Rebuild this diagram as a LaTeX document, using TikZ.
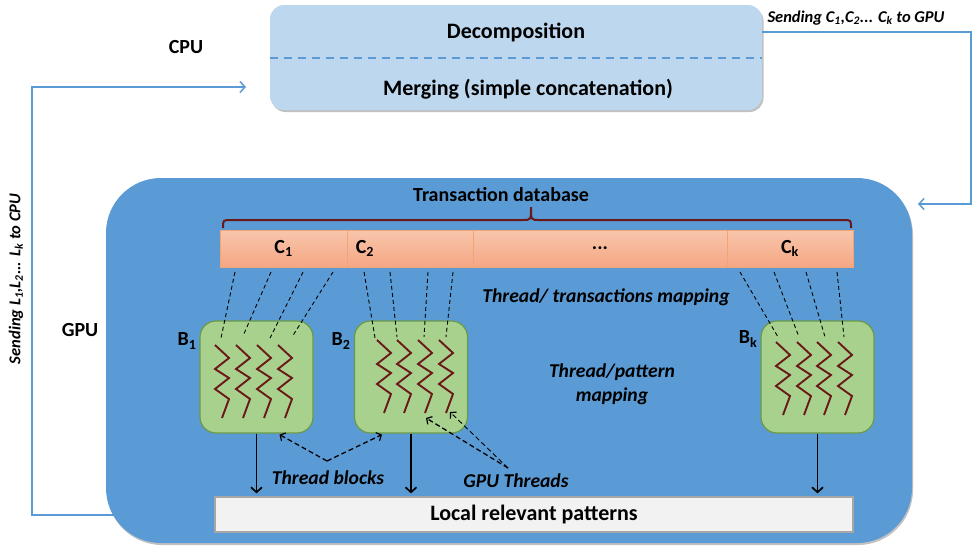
\documentclass[tikz,border=0pt]{standalone}
\usepackage{fontspec}
\setmainfont{Carlito}
\usetikzlibrary{arrows.meta,shadows,calc}
\definecolor{cpufill}{HTML}{BDD7EE}
\definecolor{gpublue}{HTML}{5B9BD5}
\definecolor{blkfill}{HTML}{A9D18E}
\definecolor{blkdraw}{HTML}{6A9A48}
\definecolor{zigcol}{HTML}{6B1818}
\definecolor{salmtop}{HTML}{F8C6AB}
\definecolor{salmbot}{HTML}{F5A784}
\definecolor{salmdraw}{HTML}{F2A474}
\definecolor{patfill}{HTML}{F2F2F2}
\definecolor{patdraw}{HTML}{A6A6A6}
\tikzset{
  lbl/.style={font=\fontsize{20}{24}\selectfont\bfseries, inner sep=0pt},
  biglbl/.style={font=\fontsize{22}{26}\selectfont\bfseries, inner sep=0pt},
  ilbl/.style={font=\fontsize{19.6}{23}\selectfont\bfseries\itshape, inner sep=0pt, align=center},
  slbl/.style={font=\fontsize{16.5}{19}\selectfont\bfseries\itshape, inner sep=0pt},
  cpubox/.style={fill=cpufill, rounded corners=14pt, minimum width=492pt, minimum height=105pt,
    drop shadow={shadow xshift=1.5pt, shadow yshift=-2pt, opacity=0.35, fill=black!70}},
  gpubox/.style={fill=gpublue, rounded corners=55pt, minimum width=806pt, minimum height=365pt,
    drop shadow={shadow xshift=1pt, shadow yshift=-2pt, opacity=0.35, fill=black!70}},
  cell/.style={draw=salmdraw, line width=0.8pt, top color=salmtop, bottom color=salmbot,
    minimum height=37pt, inner sep=0pt, font=\fontsize{20}{24}\selectfont\bfseries},
  blk/.style={fill=blkfill, draw=blkdraw, line width=1.2pt, rounded corners=16pt,
    minimum width=113pt, minimum height=112pt},
  patbox/.style={fill=patfill, draw=patdraw, line width=1.2pt, minimum width=638pt, minimum height=35pt,
    font=\fontsize{22}{26}\selectfont\bfseries},
  bluearr/.style={draw=gpublue, line width=1.5pt, -{Straight Barb[length=5pt,width=11pt,line width=1.5pt]}},
  downarr/.style={draw=black, line width=1.9pt, -{Straight Barb[length=5pt,width=11pt,line width=1.7pt]}},
  dasharr/.style={draw=black, line width=1.3pt, dash pattern=on 5pt off 3pt, -{Straight Barb[length=4pt,width=9pt,line width=1.2pt]}},
  thindash/.style={draw=black, line width=0.9pt, dash pattern=on 4pt off 3pt},
  zigstyle/.style={draw=zigcol, line width=1.9pt, line join=miter},
  bracestyle/.style={draw=zigcol, line width=2pt},
  sepline/.style={draw=gpublue, line width=2pt, dash pattern=on 8pt off 6pt},
}
\newcommand\zz[2]{\draw[zigstyle] (#1,#2) -- ++(14,13) -- ++(-14,11) -- ++(14,9) -- ++(-14,11) -- ++(14,10) -- ++(-7,19);}
\begin{document}
\begin{tikzpicture}[x=1pt,y=-1pt]
\useasboundingbox (0,0) rectangle (973,546);
% CPU box
\node[cpubox] (cpu) at (516,57.5) {};
\draw[sepline] (cpu.west) -- (cpu.east);
\node[biglbl] (dec) at (516,32) {Decomposition};
\node[biglbl] (mrg) at (528,89) {Merging (simple concatenation)};
\node[lbl] (cpulbl) at (186,47) {CPU};
% blue loop connectors
\coordinate (rt) at (971,204);
\coordinate (gin) at (918,204);
\coordinate (lstart) at (150,515);
\coordinate (lcorner) at (32,515);
\coordinate (cin) at (246,87);
\draw[bluearr] (cpu.east |- dec) -| (rt) -- (gin);
\draw[bluearr] (lstart) -- (lcorner) |- (cin);
\node[slbl] (sendc) at (856,18) {Sending C\textsubscript{1},C\textsubscript{2}... C\textsubscript{k} to GPU};
\node[slbl, rotate=90] (sendl) at (16,279) {Sending L\textsubscript{1},L\textsubscript{2}... L\textsubscript{k} to CPU};
% GPU box
\node[gpubox] (gpu) at (509,360.5) {};
\node[lbl] (gpulbl) at (80,330) {GPU};
\node[lbl] (tdb) at (501,195) {Transaction database};
% brace
\draw[bracestyle] (223,228) .. controls (223,220) .. (231,220) -- (523,220) .. controls (531,220) .. (531,207)
   .. controls (531,220) .. (539,220) -- (843,220) .. controls (851,220) .. (851,228);
% transaction cells
\node[cell, minimum width=127pt] (c1) at (283.5,248.5) {C\textsubscript{1}};
\node[cell, minimum width=126pt] (c2) at (410,248.5) {};
\node[cell, minimum width=254pt] (cdots) at (600,248.5) {...};
\node[cell, minimum width=126pt] (ck) at (790,248.5) {C\textsubscript{k}};
\node[lbl, anchor=west] (c2lbl) at ([xshift=9pt]c2.west) {C\textsubscript{2}};
\node[ilbl] (ttm) at (606,297) {Thread/ transactions mapping};
\node[ilbl] (tpm) at (612,384) {Thread/pattern\\[1pt]mapping};
% blocks
\node[blk] (b1) at (256.5,377) {};
\node[blk] (b2) at (411,377) {};
\node[blk] (bk) at (817.5,377) {};
\node[lbl] (b1lbl) at (187,341) {B\textsubscript{1}};
\node[lbl] (b2lbl) at (341,341) {B\textsubscript{2}};
\node[lbl] (bklbl) at (748,339) {B\textsubscript{k}};
% zigzags
\foreach \x in {215,236,257,278} {\zz{\x}{345}}
\foreach \x in {377,397,418,439} {\zz{\x}{340}}
\foreach \x in {776,797,817,838} {\zz{\x}{342}}
% mapping dashes
\draw[thindash] (235,272) -- (221,338);
\draw[thindash] (271,272) -- (243,336);
\draw[thindash] (303,272) -- (270,338);
\draw[thindash] (333,272) -- (292,337);
\draw[thindash] (364,272) -- (375,338);
\draw[thindash] (390,272) -- (397,337);
\draw[thindash] (428,272) -- (424,337);
\draw[thindash] (453,272) -- (446,337);
\draw[thindash] (740,272) -- (778,337);
\draw[thindash] (774,272) -- (799,337);
\draw[thindash] (806,272) -- (825,337);
\draw[thindash] (837,272) -- (844,337);
% local patterns
\node[patbox] (loc) at (534,514.5) {Local relevant patterns};
\draw[downarr] (b1.south) -- ([yshift=3pt]b1.south |- loc.north);
\draw[downarr] (b2.south) -- ([yshift=3pt]b2.south |- loc.north);
\draw[downarr] (bk.south) -- ([yshift=3pt]bk.south |- loc.north);
% thread blocks annotation
\coordinate (tbpt) at (327,461);
\draw[dasharr] (tbpt) -- ([xshift=23pt,yshift=-1pt]b1.south);
\draw[dasharr] (tbpt) -- ([xshift=-29pt,yshift=-1pt]b2.south);
\node[ilbl] (tbl) at (328,478) {Thread blocks};
% GPU threads annotation
\coordinate (gtpt) at (508,468);
\draw[dasharr] (gtpt) -- (426,418);
\draw[dasharr, line width=0.9pt] (gtpt) -- (450,412);
\node[ilbl] (gtl) at (516,481) {GPU Threads};
\end{tikzpicture}
\end{document}
